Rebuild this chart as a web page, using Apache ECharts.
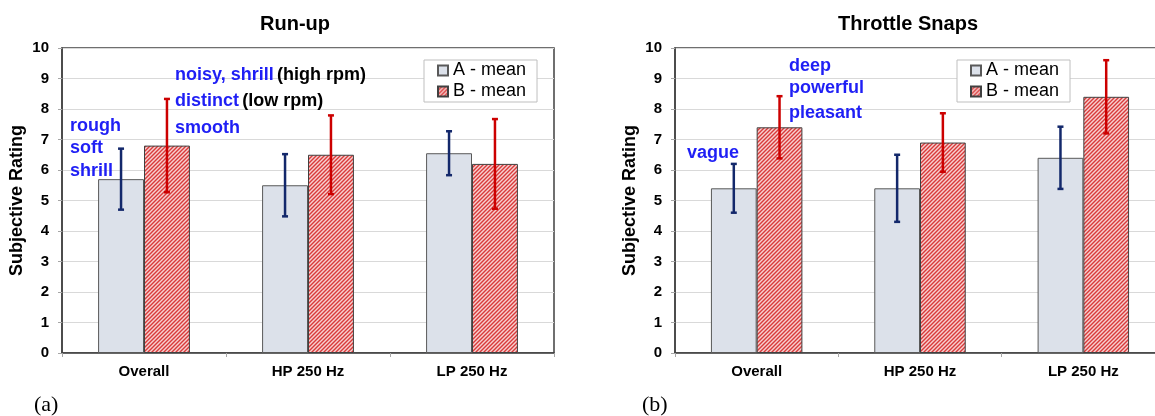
<!DOCTYPE html>
<html lang="en">
<head>
  <meta charset="utf-8">
</head>
<body style="margin: 0; overflow: hidden; background: #fff">
  <div id="container" style="width: 1170px; height: 416px"></div>

  <script type="text/javascript" src="https://cdn.jsdelivr.net/npm/echarts@6/dist/echarts.min.js"></script>

  <script type="text/javascript">
    // data
    var categories = ['Overall', 'HP 250 Hz', 'LP 250 Hz'];
    var yTicks = [0, 10, 1]; // min, max, step

    var runupMeanA = [5.7, 5.5, 6.55];
    var runupSdA = [1.0, 1.02, 0.72];
    var runupMeanB = [6.8, 6.5, 6.2];
    var runupSdB = [1.53, 1.29, 1.47];

    var snapMeanA = [5.4, 5.4, 6.4];
    var snapSdA = [0.8, 1.1, 1.02];
    var snapMeanB = [7.4, 6.9, 8.4];
    var snapSdB = [1.02, 0.96, 1.2];

    var FONT = '"Liberation Sans", Arial, sans-serif';
    var BAR_FRAC = 0.28;
    var BLUE = '#1f1ff5';

    var dom = document.getElementById('container');
    var myChart = echarts.init(dom, null, { renderer: 'canvas' });

    // red diagonal hatch like the excel fill
    function hatch() {
      var c = document.createElement('canvas');
      c.width = 4; c.height = 4;
      var ctx = c.getContext('2d');
      ctx.fillStyle = '#f7d0d0';
      ctx.fillRect(0, 0, 4, 4);
      ctx.strokeStyle = '#d93a3a';
      ctx.lineWidth = 1.4;
      ctx.beginPath();
      ctx.moveTo(0, 4); ctx.lineTo(4, 0);
      ctx.moveTo(-1, 1); ctx.lineTo(1, -1);
      ctx.moveTo(3, 5); ctx.lineTo(5, 3);
      ctx.stroke();
      return c;
    }
    var hatchFill = { image: hatch(), repeat: 'repeat' };

    function errData(mean, sd) {
      return mean.map(function (m, i) { return [i, m - sd[i], m + sd[i]]; });
    }

    function errRender(side, color) {
      return function (params, api) {
        var band = api.size([1, 0])[0];
        var dx = side * band * BAR_FRAC / 2;
        var hi = api.coord([api.value(0), api.value(2)]);
        var lo = api.coord([api.value(0), api.value(1)]);
        var cx = hi[0] + dx;
        var st = { stroke: color, lineWidth: 2.5 };
        return {
          type: 'group',
          children: [
            { type: 'line', shape: { x1: cx, y1: hi[1], x2: cx, y2: lo[1] }, style: st },
            { type: 'line', shape: { x1: cx - 3, y1: hi[1], x2: cx + 3, y2: hi[1] }, style: st },
            { type: 'line', shape: { x1: cx - 3, y1: lo[1], x2: cx + 3, y2: lo[1] }, style: st }
          ]
        };
      };
    }

    function xAxis(idx) {
      return {
        type: 'category', gridIndex: idx, data: categories,
        axisLine: { lineStyle: { color: '#404040', width: 1.5 } },
        axisTick: { show: true, length: 4, lineStyle: { color: '#a6a6a6' } },
        axisLabel: { color: '#000', fontWeight: 'bold', fontSize: 15, fontFamily: FONT, margin: 11 }
      };
    }
    function yAxis(idx) {
      return {
        type: 'value', gridIndex: idx, min: yTicks[0], max: yTicks[1], interval: yTicks[2],
        name: 'Subjective Rating', nameLocation: 'middle', nameGap: 36,
        nameTextStyle: { color: '#000', fontWeight: 'bold', fontSize: 18, fontFamily: FONT },
        axisLine: { show: true, lineStyle: { color: '#404040', width: 1.5 } },
        axisTick: { show: true, length: 4, lineStyle: { color: '#a6a6a6' } },
        splitLine: { lineStyle: { color: '#d9d9d9', width: 1 } },
        axisLabel: { color: '#000', fontWeight: 'bold', fontSize: 15, fontFamily: FONT, margin: 13 }
      };
    }
    function bars(idx, meanA, meanB) {
      return [
        {
          name: 'A - mean', type: 'bar', xAxisIndex: idx, yAxisIndex: idx, data: meanA,
          barWidth: (BAR_FRAC * 100) + '%', barGap: '0%',
          itemStyle: { color: '#dce1ea', borderColor: '#595959', borderWidth: 1 }
        },
        {
          name: 'B - mean', type: 'bar', xAxisIndex: idx, yAxisIndex: idx, data: meanB,
          barWidth: (BAR_FRAC * 100) + '%', barGap: '0%',
          itemStyle: { color: hatchFill, borderColor: '#404040', borderWidth: 1 }
        }
      ];
    }
    function errs(idx, meanA, sdA, meanB, sdB) {
      return [
        { type: 'custom', xAxisIndex: idx, yAxisIndex: idx, z: 5, data: errData(meanA, sdA),
          renderItem: errRender(-1, '#13286b'), silent: true },
        { type: 'custom', xAxisIndex: idx, yAxisIndex: idx, z: 5, data: errData(meanB, sdB),
          renderItem: errRender(1, '#cc0000'), silent: true }
      ];
    }
    function legend(left) {
      return {
        left: left, top: 60, orient: 'vertical', icon: 'rect',
        itemWidth: 10, itemHeight: 10, itemGap: 2,
        padding: [1, 11, 1, 13],
        borderColor: '#bfbfbf', borderWidth: 1, backgroundColor: '#fff',
        textStyle: { color: '#000', fontSize: 18, lineHeight: 19, fontFamily: FONT },
        data: ['A - mean', 'B - mean']
      };
    }
    function txt(x, y, text, opts) {
      var style = Object.assign({
        x: x, y: y, text: text, fill: '#000', font: 'bold 18px ' + FONT,
        textAlign: 'left', textVerticalAlign: 'middle'
      }, opts || {});
      return { type: 'text', z: 10, style: style };
    }
    var rich = {
      b: { fill: BLUE, color: BLUE, fontWeight: 'bold', fontSize: 18, fontFamily: FONT },
      k: { fill: '#000', color: '#000', fontWeight: 'bold', fontSize: 18, fontFamily: FONT }
    };

    var option = {
      animation: false,
      grid: [
        { left: 62, top: 48, width: 492, height: 305, show: true, borderColor: '#404040', borderWidth: 1.5 },
        { left: 675, top: 48, width: 490, height: 305, show: true, borderColor: '#404040', borderWidth: 1.5 }
      ],
      xAxis: [xAxis(0), xAxis(1)],
      yAxis: [yAxis(0), yAxis(1)],
      legend: [legend(424), legend(957)],
      series: [].concat(
        bars(0, runupMeanA, runupMeanB),
        errs(0, runupMeanA, runupSdA, runupMeanB, runupSdB),
        bars(1, snapMeanA, snapMeanB),
        errs(1, snapMeanA, snapSdA, snapMeanB, snapSdB)
      ),
      graphic: [
        txt(295, 24, 'Run-up', { font: 'bold 20px ' + FONT, textAlign: 'center' }),
        txt(908, 24, 'Throttle Snaps', { font: 'bold 20px ' + FONT, textAlign: 'center' }),
        txt(70, 126, 'rough', { fill: BLUE }),
        txt(70, 148, 'soft', { fill: BLUE }),
        txt(70, 171, 'shrill', { fill: BLUE }),
        { type: 'text', z: 10, style: { x: 175, y: 75, text: '{b|noisy, shrill} {k|(high rpm)}', rich: rich, textVerticalAlign: 'middle' } },
        { type: 'text', z: 10, style: { x: 175, y: 101, text: '{b|distinct} {k|(low rpm)}', rich: rich, textVerticalAlign: 'middle' } },
        txt(175, 128, 'smooth', { fill: BLUE }),
        txt(687, 153, 'vague', { fill: BLUE }),
        txt(789, 66, 'deep', { fill: BLUE }),
        txt(789, 88, 'powerful', { fill: BLUE }),
        txt(789, 113, 'pleasant', { fill: BLUE }),
        txt(34, 405, '(a)', { font: '22px "Liberation Serif", serif' }),
        txt(642, 405, '(b)', { font: '22px "Liberation Serif", serif' })
      ]
    };

    myChart.setOption(option);
    window.addEventListener('resize', myChart.resize);
  </script>
</body>
</html>
